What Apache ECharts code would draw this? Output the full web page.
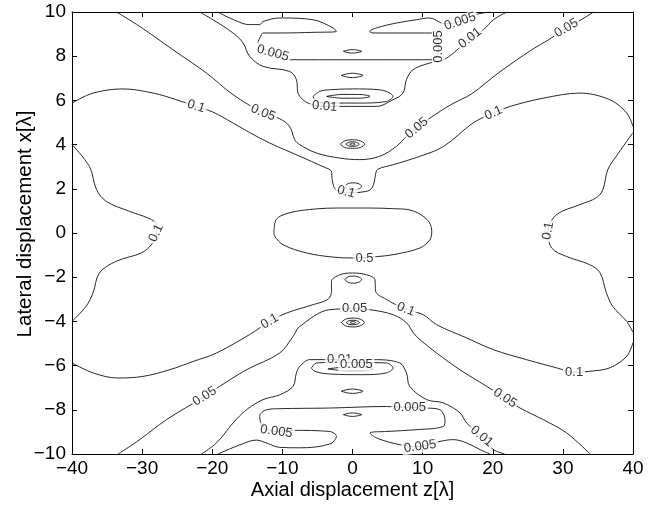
<!DOCTYPE html>
<html>
<head>
<meta charset="utf-8">
<script src="https://cdn.jsdelivr.net/npm/echarts@6/dist/echarts.min.js"></script>
<style>
  html, body { margin: 0; padding: 0; background: #fff; }
  #chart { width: 657px; height: 506px; }
</style>
</head>
<body>
<div id="chart"></div>
<script>
// Contour lines of the normalised field, axial z [λ] vs lateral x [λ].
// Each line is a list of [z, x] points.

const xTicks = [-40, -30, -20, -10, 0, 10, 20, 30, 40];
const yTicks = [-10, -8, -6, -4, -2, 0, 2, 4, 6, 8, 10];

// level 0.5: central closed contour
const c0_5_centre = [[-11.2,0],[-10.9,0.6],[-8.9,0.92],[-5.2,1.09],[-2,1.13],[2.5,1.13],[5.8,1.1],[8.2,1.04],[10.6,0.62],[11.3,0.1],[11.05,-0.3],[9.6,-0.68],[5.8,-0.98],[3.4,-1.07],[0,-1.13],[-2.8,-1.09],[-6.6,-0.9],[-9.9,-0.53],[-11.1,-0.15],[-11.2,0]];

// level 0.1
const c0_1_upper = [[-40,5.88],[-37,6.33],[-32.7,6.52],[-28.4,6.33],[-25.4,6.06],[-22.3,5.73],[-19.9,5.47],[-17.1,4.99],[-14.7,4.55],[-11.8,4.07],[-7.5,3.47],[-4.2,3.0],[-3.0,2.79],[-2.9,2.42],[-2.5,2.0],[-1.5,1.85],[0,1.82],[1.5,1.86],[2.6,1.97],[3.1,2.3],[3.25,2.6],[3.6,2.88],[5.8,3.09],[9.6,3.47],[13.0,3.92],[17.2,4.98],[20.1,5.43],[22.5,5.73],[27.2,6.1],[32.4,6.33],[36.7,6.03],[39.1,5.43],[40,4.82]];
const c0_1_lower = [[-40,-5.88],[-37,-6.33],[-33.5,-6.56],[-29.9,-6.49],[-26.1,-6.19],[-22.7,-5.81],[-19.4,-5.43],[-14.7,-4.6],[-11.8,-4.0],[-9.4,-3.62],[-5.6,-3.24],[-3.5,-3.0],[-3.0,-2.64],[-3.0,-2.19],[-1.8,-1.89],[0,-1.81],[2.0,-1.89],[3.2,-2.11],[3.3,-2.64],[4.8,-3.0],[7.6,-3.45],[10.1,-3.7],[12.0,-4.15],[16.3,-4.75],[20.1,-5.28],[24.8,-5.73],[29.1,-6.1],[31.6,-6.3],[33.8,-6.26],[36.7,-6.1],[39.1,-5.58],[40,-4.96]];
const c0_1_left = [[-40,4.0],[-37.5,3.0],[-36.5,1.96],[-35.1,1.43],[-31.8,0.98],[-29.2,0.68],[-28.0,0.42],[-27.9,0],[-28.6,-0.5],[-30.1,-0.9],[-33.7,-1.28],[-36.1,-1.81],[-37.0,-2.71],[-38.0,-3.32],[-40,-4.0]];
const c0_1_right = [[40,4.54],[37.6,3.47],[36.4,2.86],[35.7,1.96],[34.8,1.6],[32.4,1.28],[29.1,0.83],[27.9,0.1],[28.4,-0.68],[30.5,-1.06],[33.8,-1.43],[35.3,-1.8],[36.2,-2.7],[37.1,-3.32],[39.1,-4.0],[40,-4.5]];

// level 0.05
const c0_05_upper = [[-33.67,10],[-30.35,9.35],[-25.6,8.29],[-20.83,7.24],[-17.04,6.26],[-12.76,5.44],[-10.38,5.17],[-8.96,4.82],[-8.24,4.22],[-7.53,4.0],[-5.15,3.62],[-1.83,3.39],[1.03,3.32],[3.88,3.47],[6.26,3.92],[7.69,4.37],[9.16,4.75],[11.05,5.2],[14,5.8],[17,6.3],[20.8,7.24],[25.6,8.3],[28,8.75],[30.5,9.27],[32.6,9.65],[34.4,10]];
const c0_05_lower = [[-33.4,-10],[-30.35,-9.35],[-26.54,-8.45],[-21.08,-7.39],[-18.94,-6.94],[-15.13,-6.19],[-10.38,-5.43],[-8.48,-4.68],[-7.53,-4.23],[-3.25,-3.47],[0.31,-3.43],[2.5,-3.47],[5.83,-3.7],[7.73,-4.07],[8.68,-4.52],[9.63,-4.83],[12.0,-5.43],[15.33,-6.19],[19.14,-6.94],[21.75,-7.47],[23.89,-7.92],[27.22,-8.45],[30.55,-9.05],[33.87,-10]];

// level 0.01
const c0_01_upper = [[-21.8,10],[-19.9,9.65],[-17.04,9.05],[-15.6,8.6],[-14.66,7.99],[-12.76,7.54],[-8.96,7.31],[-8.0,6.94],[-7.77,6.33],[-7.06,6.03],[-6.1,5.85],[-3.96,5.73],[-1.35,5.73],[3.41,5.73],[5.78,6.03],[7.2,6.33],[7.69,6.94],[8.63,7.39],[11.0,7.69],[12.96,7.84],[14.39,8.14],[16.76,8.82],[18.67,9.2],[20.1,9.65],[22.0,10]];
const c0_01_lower = [[-21.55,-10],[-19.4,-9.5],[-17.04,-8.6],[-15.13,-8.0],[-12.76,-7.54],[-10.38,-7.32],[-8.48,-6.94],[-8.0,-6.33],[-7.53,-6.04],[-6.1,-5.73],[-1.83,-5.73],[2.92,-5.73],[6.73,-5.88],[7.69,-6.33],[8.16,-6.94],[10.58,-7.54],[12.96,-7.69],[15.33,-8.14],[16.28,-8.6],[18.42,-9.2],[20.09,-9.8],[21.7,-10]];

// level 0.005
const c0_005_upper = [[-19.18,10],[-17.51,9.73],[-14.66,9.43],[-13.23,9.43],[-12.76,9.57],[-10.38,9.73],[-5.63,9.65],[-2.78,9.28],[-2.3,9.12],[-5.63,9.08],[-10.38,9.05],[-12.76,9.05],[-12.99,8.97],[-13.48,8.6],[-11.34,8.14],[-8.96,7.84],[-3.25,7.84],[4.83,7.84],[11.54,7.84],[12.25,8.44],[11.54,9.05],[5.83,9.05],[2.92,9.05],[2.45,9.12],[3.41,9.28],[6.26,9.5],[9.11,9.65],[11.0,9.73],[13.15,9.47],[15.33,9.57],[17.57,9.88],[19.57,10]];
const c0_005_lower = [[-19.18,-10],[-16.09,-9.59],[-13.7,-9.37],[-12.28,-9.5],[-10.38,-9.7],[-7.53,-9.72],[-3.25,-9.55],[-2.3,-9.2],[-3.25,-8.98],[-8.48,-8.93],[-10.85,-8.98],[-12.76,-8.75],[-13.23,-8.3],[-12.28,-8.0],[-10.38,-7.95],[-3.25,-7.92],[4.83,-7.85],[8.16,-7.9],[10.58,-7.92],[12.48,-8.0],[13.19,-8.45],[12.96,-8.75],[9.16,-8.9],[4.88,-8.98],[2.5,-9.05],[3.45,-9.28],[6.77,-9.58],[9.63,-9.66],[12.48,-9.43],[14.39,-9.35],[16.28,-9.5],[18.18,-9.8],[19.61,-10]];
const c0_005_upperOval = [[-5.63,6.18],[-4.68,6.41],[-3.25,6.48],[0.03,6.52],[3.88,6.48],[5.78,6.18],[4.83,5.95],[1.03,5.88],[-3.25,5.88],[-5.15,5.95],[-5.63,6.18]];
const c0_005_lowerOval = [[-5.86,-6.11],[-5.15,-5.88],[-3.25,-5.86],[1.0,-5.86],[4.83,-5.88],[5.78,-6.11],[4.83,-6.33],[1.5,-6.41],[-3.25,-6.38],[-5.39,-6.26],[-5.86,-6.11]];

// small closed contours along the axis z = 0
const axisLoops = [
  [[-3.7,6.18],[-1.5,6.27],[1,6.27],[2.5,6.18],[1,6.1],[-1.5,6.1],[-3.7,6.18]],
  [[-3.5,-6.15],[-1,-6.07],[1.5,-6.07],[3,-6.15],[1.5,-6.23],[-1,-6.23],[-3.5,-6.15]],
  [[-1.1,2.11],[-0.6,2.24],[0.1,2.27],[0.8,2.24],[1.3,2.11],[0.8,1.98],[0.1,1.95],[-0.6,1.98],[-1.1,2.11]],
  [[-1.1,-2.11],[-0.6,-1.98],[0.1,-1.95],[0.8,-1.98],[1.3,-2.11],[0.8,-2.24],[0.1,-2.27],[-0.6,-2.24],[-1.1,-2.11]],
  [[-1.75,4.02],[-1.1,4.17],[0,4.22],[1.1,4.17],[1.75,4.02],[1.1,3.87],[0,3.83],[-1.1,3.87],[-1.75,4.02]],
  [[-0.95,4.02],[-0.55,4.1],[0,4.13],[0.55,4.1],[0.95,4.02],[0.55,3.94],[0,3.92],[-0.55,3.94],[-0.95,4.02]],
  [[-0.4,4.02],[0,4.07],[0.4,4.02],[0,3.97],[-0.4,4.02]],
  [[-1.6,-4.05],[-1.0,-3.9],[0.05,-3.85],[1.1,-3.9],[1.7,-4.05],[1.1,-4.2],[0.05,-4.25],[-1.0,-4.2],[-1.6,-4.05]],
  [[-0.9,-4.05],[-0.5,-3.97],[0.05,-3.95],[0.6,-3.97],[1.0,-4.05],[0.6,-4.13],[0.05,-4.15],[-0.5,-4.13],[-0.9,-4.05]],
  [[-0.35,-4.05],[0.05,-4.0],[0.45,-4.05],[0.05,-4.1],[-0.35,-4.05]],
  [[-1.6,7.13],[-0.8,7.2],[0,7.23],[0.8,7.2],[1.5,7.13],[0.8,7.06],[0,7.03],[-0.8,7.06],[-1.6,7.13]],
  [[-1.3,8.22],[-0.6,8.28],[0,8.3],[0.6,8.28],[1.3,8.22],[0.6,8.16],[0,8.14],[-0.6,8.16],[-1.3,8.22]],
  [[-1.6,-7.16],[-0.8,-7.09],[0,-7.06],[0.8,-7.09],[1.5,-7.16],[0.8,-7.23],[0,-7.26],[-0.8,-7.23],[-1.6,-7.16]],
  [[-1.3,-8.22],[-0.6,-8.16],[0,-8.14],[0.6,-8.16],[1.3,-8.22],[0.6,-8.28],[0,-8.3],[-0.6,-8.28],[-1.3,-8.22]]
];

// inline level labels: [z, x, text]
const levelLabels = [
  [1.7,-1.13,'0.5'],
  [-22.3,5.73,'0.1'], [20.1,5.43,'0.1'], [-0.9,1.86,'0.1'], [-28.0,0.0,'0.1'], [27.9,0.1,'0.1'],
  [-11.8,-4.0,'0.1'], [7.6,-3.45,'0.1'], [31.6,-6.3,'0.1'],
  [-12.76,5.44,'0.05'], [9.16,4.75,'0.05'], [30.5,9.27,'0.05'],
  [-21.08,-7.39,'0.05'], [0.31,-3.43,'0.05'], [21.75,-7.47,'0.05'],
  [-3.96,5.73,'0.01'], [16.76,8.82,'0.01'], [-1.83,-5.73,'0.01'], [18.42,-9.2,'0.01'],
  [-11.34,8.14,'0.005'], [12.25,8.44,'0.005'], [15.33,9.57,'0.005'],
  [0.55,-5.96,'0.005'], [-10.85,-8.98,'0.005'], [8.16,-7.9,'0.005'], [9.63,-9.66,'0.005']
];
const labelAngles = [0, -18, 24, -15, 65, 80, 30, -22, 0, -22, 40, 30, 32, 0, -33, -5, 38, 0, -40, -15, 90, 18, 0, -8, 0, 8];

const FONT = '"Liberation Sans", Arial, Helvetica, sans-serif';
const minus = v => String(v).replace('-', '\u2212');

const contours = [
  c0_5_centre,
  c0_1_upper, c0_1_lower, c0_1_left, c0_1_right,
  c0_05_upper, c0_05_lower,
  c0_01_upper, c0_01_lower,
  c0_005_upper, c0_005_lower, c0_005_upperOval, c0_005_lowerOval
].concat(axisLoops);

const lineSeries = contours.map(pts => ({
  type: 'line',
  data: pts,
  xAxisIndex: 0,
  yAxisIndex: 0,
  showSymbol: false,
  symbol: 'none',
  smooth: 0.35,
  silent: true,
  z: 2,
  lineStyle: { color: '#111', width: 0.9 }
}));

const labelSeries = {
  type: 'scatter',
  xAxisIndex: 0,
  yAxisIndex: 0,
  symbolSize: 1,
  silent: true,
  z: 5,
  itemStyle: { color: 'rgba(0,0,0,0)' },
  data: levelLabels.map((l, i) => ({
    value: [l[0], l[1]],
    name: l[2],
    label: { rotate: labelAngles[i] }
  })),
  label: {
    show: true,
    position: 'inside',
    formatter: p => p.name,
    color: '#000',
    fontSize: 13,
    fontFamily: FONT,
    backgroundColor: '#fff',
    padding: [0, 2]
  },
  labelLayout: { hideOverlap: false }
};

const axisCommon = {
  type: 'value',
  axisLine: { show: true, onZero: false, lineStyle: { color: '#000', width: 1 } },
  axisTick: { show: true, inside: true, length: 5, lineStyle: { color: '#000', width: 1 } },
  splitLine: { show: false },
  minorTick: { show: false }
};

const chart = echarts.init(document.getElementById('chart'), null, { renderer: 'canvas' });
chart.setOption({
  animation: false,
  backgroundColor: '#fff',
  grid: { left: 72, right: 24, top: 12, bottom: 52, containLabel: false, outerBoundsMode: 'none' },
  xAxis: [
    Object.assign({}, axisCommon, {
      position: 'bottom',
      min: xTicks[0], max: xTicks[xTicks.length - 1], interval: 10,
      axisLabel: { color: '#000', fontSize: 19, fontFamily: FONT, margin: 5, formatter: minus },
      name: 'Axial displacement z[\u03bb]',
      nameLocation: 'middle',
      nameGap: 26,
      nameMoveOverlap: false,
      nameTextStyle: { color: '#000', fontSize: 20, fontFamily: FONT }
    }),
    Object.assign({}, axisCommon, {
      position: 'top',
      min: xTicks[0], max: xTicks[xTicks.length - 1], interval: 10,
      axisLabel: { show: false }
    })
  ],
  yAxis: [
    Object.assign({}, axisCommon, {
      position: 'left',
      min: yTicks[0], max: yTicks[yTicks.length - 1], interval: 2,
      axisLabel: { color: '#000', fontSize: 19, fontFamily: FONT, margin: 6, formatter: minus },
      name: 'Lateral displacement x[\u03bb]',
      nameLocation: 'middle',
      nameGap: 36,
      nameMoveOverlap: false,
      nameTextStyle: { color: '#000', fontSize: 20.5, fontFamily: FONT, padding: [0, 0, 0, 18] }
    }),
    Object.assign({}, axisCommon, {
      position: 'right',
      min: yTicks[0], max: yTicks[yTicks.length - 1], interval: 2,
      axisLabel: { show: false }
    })
  ],
  series: lineSeries.concat([labelSeries])
});
</script>
</body>
</html>
